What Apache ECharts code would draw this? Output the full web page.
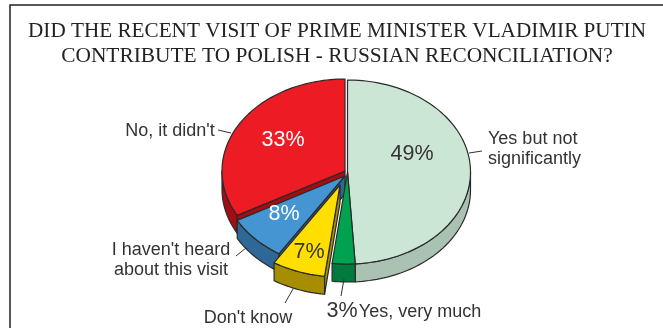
<!DOCTYPE html>
<html>
<head>
<meta charset="utf-8">
<script src="https://cdn.jsdelivr.net/npm/echarts@6/dist/echarts.min.js"></script>
<style>html,body{margin:0;padding:0;background:#fff}#chart{width:663px;height:328px}</style>
</head>
<body>
<div id="chart"></div>
<script>
const titleLines = [
  'DID THE RECENT VISIT OF PRIME MINISTER VLADIMIR PUTIN',
  'CONTRIBUTE TO POLISH - RUSSIAN RECONCILIATION?'
];
const answers = ['Yes but not\nsignificantly', 'Yes, very much', "Don't know", "I haven't heard\nabout this visit", "No, it didn't"];
const shares = [49, 3, 7, 8, 33];

// Presentation of each slice, in the same order as the answers
const topColors = ['#CCE6D6', '#00A14F', '#FFDE00', '#4495D1', '#ED1C24'];
const sideColors = ['#A9C2B1', '#007A3D', '#A68E00', '#2F6797', '#A50C14'];
const shareColors = ['#333333', '#333333', '#333333', '#ffffff', '#ffffff'];
const explodeX = [0.5, 0.5, -7, -2, -2];
const explodeY = [0, 0, 13, 4, -1];
const stacking = [3, 4, 5, 2, 1];
const sharePos = [[412, 154], [342, 311], [309, 252], [284, 214], [283, 140]];
const answerPos = [[488, 149], [420, 312], [248, 318], [171, 260], [170, 131]];
const answerAlign = ['left', 'center', 'center', 'center', 'center'];
const leaders = [
  [[469, 153], [482, 151]],
  [[344, 279], [341, 296]],
  [[293, 289], [285, 303]],
  [[236, 256], [246, 248]],
  [[218, 130], [231, 133]]
];

// Tilted pie geometry
const CX = 347, CY = 172, RX = 123, RY = 92, DEPTH = 18;
const total = shares.reduce((a, b) => a + b, 0);
const startOf = shares.map((_, i) => shares.slice(0, i).reduce((a, b) => a + b, 0) / total * Math.PI * 2);
const endOf = shares.map((_, i) => shares.slice(0, i + 1).reduce((a, b) => a + b, 0) / total * Math.PI * 2);

function rim(a, ox, oy, drop) {
  return [CX + ox + RX * Math.sin(a), CY + oy + RY * -Math.cos(a) + (drop || 0)];
}
function arc(a0, a1, ox, oy, drop) {
  const n = Math.max(2, Math.ceil((a1 - a0) / 0.03));
  const pts = [];
  for (let k = 0; k <= n; k++) pts.push(rim(a0 + (a1 - a0) * k / n, ox, oy, drop));
  return pts;
}

function renderSlice(params, api) {
  const i = params.dataIndex;
  const a0 = startOf[i], a1 = endOf[i];
  const ox = explodeX[i], oy = explodeY[i];
  const apex = [CX + ox, CY + oy];
  const apexLow = [apex[0], apex[1] + DEPTH];
  const z = stacking[i] * 10;
  const edge = { stroke: '#2a2a2a', lineWidth: 1.2, lineJoin: 'round' };
  const kids = [];
  // Outer wall: only the part of the rim that faces the viewer
  const w0 = Math.max(a0, Math.PI / 2), w1 = Math.min(a1, Math.PI * 1.5);
  if (w1 > w0) {
    const front = arc(w0, w1, ox, oy, 0);
    const back = arc(w0, w1, ox, oy, DEPTH).reverse();
    kids.push({ type: 'polygon', z2: z, shape: { points: front.concat(back) },
      style: Object.assign({ fill: sideColors[i] }, edge) });
  }
  // Cut face on the lower edge of slices in the left half
  if (a0 > Math.PI) {
    const p = rim(a0, ox, oy, 0), q = rim(a0, ox, oy, DEPTH);
    kids.push({ type: 'polygon', z2: z + 1, shape: { points: [apex, p, q, apexLow] },
      style: Object.assign({ fill: sideColors[i] }, edge) });
  }
  // Top face
  kids.push({ type: 'polygon', z2: z + 2,
    shape: { points: [apex].concat(arc(a0, a1, ox, oy, 0)) },
    style: Object.assign({ fill: topColors[i] }, edge) });
  // Share in percent
  kids.push({ type: 'text', z2: 100, x: sharePos[i][0], y: sharePos[i][1],
    style: { text: api.value(0) + '%', fill: shareColors[i], font: '21.5px "Liberation Sans"', align: 'center', verticalAlign: 'middle' } });
  // Leader and answer text
  kids.push({ type: 'line', z2: 100,
    shape: { x1: leaders[i][0][0], y1: leaders[i][0][1], x2: leaders[i][1][0], y2: leaders[i][1][1] },
    style: { stroke: '#333333', lineWidth: 1 } });
  kids.push({ type: 'text', z2: 100, x: answerPos[i][0], y: answerPos[i][1],
    style: { text: answers[i], fill: '#333333', font: '18px "Liberation Sans"', lineHeight: 20, align: answerAlign[i], verticalAlign: 'middle' } });
  return { type: 'group', children: kids };
}

const chart = echarts.init(document.getElementById('chart'), null, { renderer: 'canvas' });
chart.setOption({
  animation: false,
  backgroundColor: '#ffffff',
  graphic: [
    { type: 'rect', shape: { x: 10, y: 5, width: 700, height: 400 }, style: { fill: 'none', stroke: '#222222', lineWidth: 1.5 } },
    { type: 'text', x: 337, y: 31, style: { text: titleLines[0], font: '21.2px "Liberation Serif"', fill: '#222222', align: 'center', verticalAlign: 'middle' } },
    { type: 'text', x: 337, y: 56, style: { text: titleLines[1], font: '21.4px "Liberation Serif"', fill: '#222222', align: 'center', verticalAlign: 'middle' } }
  ],
  series: [{
    type: 'custom',
    coordinateSystem: 'none',
    clip: false,
    data: shares,
    renderItem: renderSlice
  }]
});
</script>
</body>
</html>
